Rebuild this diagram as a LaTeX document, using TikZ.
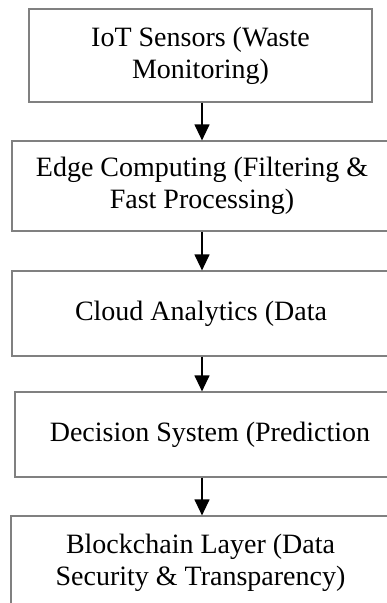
\documentclass[tikz,border=0pt]{standalone}
\usepackage{fontspec}
\setmainfont{Liberation Serif}
\usetikzlibrary{arrows.meta,positioning}
\definecolor{boxgray}{RGB}{128,128,128}

\begin{document}
\begin{tikzpicture}[x=1pt,y=-1pt,
  layer/.style={draw=boxgray,line width=1.2pt,align=center,inner sep=0pt,
    font=\fontsize{28}{32}\selectfont},
  flow/.style={-{Triangle[length=16pt,width=15pt]},line width=1.2pt}]

\useasboundingbox (0,0) rectangle (387,603);
\clip (0,0) rectangle (387,603);

% the five layers, top to bottom
\foreach \i/\cx/\cy/\w/\h/\txt in {
  1/200.5/55.5/343/93/{IoT Sensors (Waste\\Monitoring)},
  2/202/186/380/90/{Edge Computing (Filtering \&\\Fast Processing)},
  3/201/313.5/378/85/{Cloud Analytics (Data},
  4/210/434.5/390/85/{Decision System (Prediction},
  5/200.5/562.5/379/93/{Blockchain Layer (Data\\Security \& Transparency)}}
  \node [layer,minimum width=\w pt,minimum height=\h pt] (b\i) at (\cx,\cy) {\txt};

\coordinate (ax) at (202,0);
\foreach \i/\j in {1/2,2/3,3/4,4/5}
  \draw [flow] (b\i.south -| ax) -- (b\j.north -| ax);

\end{tikzpicture}
\end{document}
